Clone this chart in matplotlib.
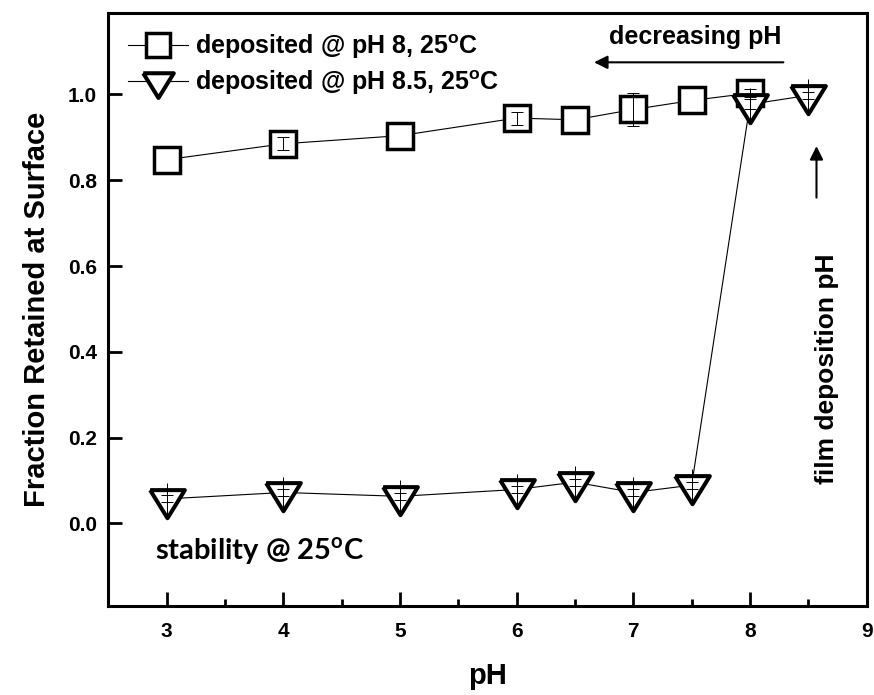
import numpy as np
import matplotlib.pyplot as plt

# ============== DATA ==============
ph_sq = [3, 4, 5, 6, 6.5, 7, 7.5, 8]
frac_sq = [0.848, 0.885, 0.904, 0.945, 0.941, 0.965, 0.986, 1.003]
err_sq = [0, 0.015, 0, 0.015, 0, 0.039, 0, 0.010]

ph_tri = [3, 4, 5, 6, 6.5, 7, 7.5, 8, 8.5]
frac_tri = [0.057, 0.072, 0.063, 0.079, 0.096, 0.072, 0.089, 0.977, 0.998]
err_tri_long = [0.037, 0.037, 0.037, 0.037, 0.037, 0.037, 0.037, 0.037, 0.039]
err_tri_cap = [0.008, 0.008, 0.008, 0.008, 0.008, 0.008, 0.008, 0.012, 0.008]

label_sq = r"deposited @ pH 8, 25$^{\mathbf{o}}$C"
label_tri = r"deposited @ pH 8.5, 25$^{\mathbf{o}}$C"
# ==================================

plt.rcParams["font.family"] = ["Liberation Sans", "DejaVu Sans"]
plt.rcParams["font.weight"] = "bold"
plt.rcParams["mathtext.fontset"] = "custom"
plt.rcParams["mathtext.bf"] = "Liberation Sans:bold"
plt.rcParams["mathtext.rm"] = "Liberation Sans:bold"
plt.rcParams["mathtext.sf"] = "Lato:bold"

# triangolo con il baricentro sul punto (come Origin)
tri_down = [(-0.925, 0.5), (0.925, 0.5), (0.0, -1.0), (-0.925, 0.5)]

fig = plt.figure(figsize=(8.74, 6.95), dpi=100)
ax = fig.add_axes([0.1239, 0.1285, 0.8677, 0.8528])

ax.plot(ph_sq, frac_sq, color="black", lw=0.8, marker="s", ms=19,
        mfc="white", mec="black", mew=2.5, zorder=3, label=label_sq)
ax.plot(ph_tri, frac_tri, color="black", lw=0.8, marker=tri_down, ms=27,
        mfc="white", mec="black", mew=2.9, zorder=4, label=label_tri)

# barre d'errore sopra i simboli
sq_x = np.array(ph_sq)
sq_y = np.array(frac_sq)
sq_e = np.array(err_sq)
m = sq_e > 0
ax.errorbar(sq_x[m], sq_y[m], yerr=sq_e[m], fmt="none", ecolor="black",
            elinewidth=0.7, capsize=4, capthick=0.7, zorder=5)
ax.errorbar(ph_tri, frac_tri, yerr=err_tri_long, fmt="none", ecolor="black",
            elinewidth=0.7, capsize=0, zorder=6)
ax.errorbar(ph_tri, frac_tri, yerr=err_tri_cap, fmt="none", ecolor="black",
            elinewidth=0.7, capsize=4, capthick=0.7, zorder=6)

ax.set_xlim(2.5, 9.0)
ax.set_ylim(-0.192, 1.19)
ax.set_xticks([3, 4, 5, 6, 7, 8, 9])
ax.set_xticks(np.arange(3.5, 9, 1.0), minor=True)
ax.set_yticks([0.0, 0.2, 0.4, 0.6, 0.8, 1.0])
ax.set_yticklabels(["0.0", "0.2", "0.4", "0.6", "0.8", "1.0"])
ax.tick_params(which="major", direction="in", length=10, width=2, labelsize=15, pad=12)
ax.tick_params(which="minor", direction="in", length=5, width=2)
ax.tick_params(axis="y", pad=8)
for s in ax.spines.values():
    s.set_linewidth(2.2)

ax.set_xlabel("pH", fontsize=21, fontweight="bold", labelpad=15)
ax.set_ylabel("Fraction Retained at Surface", fontsize=21, fontweight="bold", labelpad=12)

ax.legend(loc="upper left", bbox_to_anchor=(0.0, 1.0), frameon=False, fontsize=18,
          handlelength=2.4, handletextpad=0.3, labelspacing=0.3, markerscale=0.88,
          borderaxespad=0.37)

# annotazioni
ax.text(7.53, 1.133, "decreasing pH", fontsize=18, fontweight="bold", ha="center", va="center")
ax.annotate("", xy=(6.64, 1.075), xytext=(8.31, 1.075),
            arrowprops=dict(arrowstyle="-|>", color="black", lw=1.5, mutation_scale=20))
ax.annotate("", xy=(8.57, 0.886), xytext=(8.57, 0.753),
            arrowprops=dict(arrowstyle="-|>", color="black", lw=1.5, mutation_scale=20))
ax.text(8.66, 0.36, "film deposition pH", fontsize=19, fontweight="bold",
        rotation=90, ha="center", va="center")
ax.text(2.9, -0.064, r"stability @ 25$^{\mathsf{o}}$C", fontsize=21, fontweight="bold",
        family=["Lato", "DejaVu Sans"], ha="left", va="center")

fig.savefig("out.png", dpi=100)
